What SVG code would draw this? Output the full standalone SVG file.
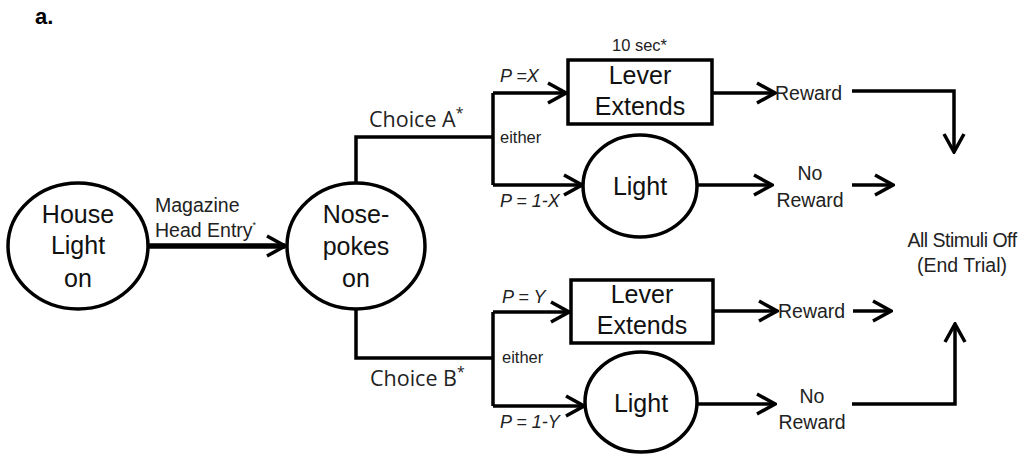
<svg xmlns="http://www.w3.org/2000/svg" width="1021" height="455" viewBox="0 0 1021 455">
<style>
.ln{fill:none;stroke:#000;stroke-width:3.5}
.shape{fill:#fff;stroke:#000;stroke-width:3.5}
.big{font-family:"Liberation Sans",Arial,sans-serif;font-size:25px;fill:#111;text-anchor:middle}
.mid{font-family:"Liberation Sans",Arial,sans-serif;font-size:19.5px;fill:#222}
.sm{font-family:"Liberation Sans",Arial,sans-serif;font-size:16.5px;fill:#222}
.pi{font-family:"Liberation Sans",Arial,sans-serif;font-size:18px;font-style:italic;fill:#222}
.cal{font-family:"Open Sans","Liberation Sans",sans-serif;font-size:21.5px;fill:#222}
</style>
<defs>
<marker id="ah" viewBox="0 0 22 24" refX="20" refY="12" markerWidth="22" markerHeight="24" markerUnits="userSpaceOnUse" orient="auto">
<path d="M2,2 L20,12 L2,22" fill="none" stroke="#000" stroke-width="3.5"/>
</marker>
</defs>
<rect width="1021" height="455" fill="#fff"/>
<text x="35" y="24" style="font-family:'Liberation Sans',Arial,sans-serif;font-size:22px;font-weight:bold">a.</text>

<g id="connectors">
<line class="ln" x1="148" y1="246" x2="285" y2="246" style="stroke-width:5.5" marker-end="url(#ah)"/>
<path class="ln" d="M356,183 V137 H493"/>
<path class="ln" d="M493,93 V185"/>
<line class="ln" x1="493" y1="93" x2="566" y2="93" marker-end="url(#ah)"/>
<line class="ln" x1="493" y1="185" x2="582" y2="185" marker-end="url(#ah)"/>
<path class="ln" d="M356,308 V358 H493"/>
<path class="ln" d="M493,312 V406"/>
<line class="ln" x1="493" y1="312" x2="569" y2="312" marker-end="url(#ah)"/>
<line class="ln" x1="493" y1="406" x2="584" y2="406" marker-end="url(#ah)"/>
<line class="ln" x1="712" y1="93" x2="775" y2="93" marker-end="url(#ah)"/>
<line class="ln" x1="697" y1="185" x2="772" y2="185" marker-end="url(#ah)"/>
<line class="ln" x1="713" y1="311" x2="777" y2="311" marker-end="url(#ah)"/>
<line class="ln" x1="697" y1="404" x2="775" y2="404" marker-end="url(#ah)"/>
<path class="ln" d="M852,91 H954 V152" marker-end="url(#ah)"/>
<line class="ln" x1="852" y1="185" x2="893" y2="185" marker-end="url(#ah)"/>
<line class="ln" x1="853" y1="311" x2="891" y2="311" marker-end="url(#ah)"/>
<path class="ln" d="M852,404 H955 V324" marker-end="url(#ah)"/>
</g>

<g id="labels">
<text class="mid" x="155" y="212" font-size="20">Magazine</text>
<text class="mid" x="155" y="237" font-size="20">Head Entry<tspan font-size="9" dy="-9">*</tspan></text>
<text class="cal" x="369" y="127">Choice A<tspan font-size="14" dy="-9">*</tspan></text>
<text class="cal" x="370" y="386">Choice B<tspan font-size="14" dy="-9">*</tspan></text>
<text class="sm" x="500" y="143">either</text>
<text class="sm" x="502" y="363">either</text>
<text class="pi" x="500" y="82">P =X</text>
<text class="pi" x="500" y="207">P = 1-X</text>
<text class="pi" x="502" y="303">P = Y</text>
<text class="pi" x="500" y="428">P = 1-Y</text>
<text class="sm" x="612" y="51">10 sec*</text>
<text class="mid" x="775" y="100">Reward</text>
<text class="mid" x="810" y="180" text-anchor="middle">No</text>
<text class="mid" x="810" y="207" text-anchor="middle">Reward</text>
<text class="mid" x="778" y="318">Reward</text>
<text class="mid" x="812" y="403" text-anchor="middle">No</text>
<text class="mid" x="812" y="429" text-anchor="middle">Reward</text>
<text class="mid" x="962" y="247" text-anchor="middle" font-size="16" letter-spacing="-0.5">All Stimuli Off</text>
<text class="mid" x="962" y="272" text-anchor="middle" font-size="16">(End Trial)</text>
</g>

<g id="house-light">
<ellipse class="shape" cx="78" cy="246" rx="70" ry="63"/>
<text class="big" x="78" y="223">House</text>
<text class="big" x="78" y="254">Light</text>
<text class="big" x="78" y="287">on</text>
</g>
<g id="nose-pokes">
<ellipse class="shape" cx="356" cy="246" rx="69" ry="63"/>
<text class="big" x="356" y="223">Nose-</text>
<text class="big" x="356" y="255">pokes</text>
<text class="big" x="356" y="287">on</text>
</g>
<g id="lever-a">
<rect class="shape" x="568" y="60" width="144" height="64"/>
<text class="big" x="640" y="84">Lever</text>
<text class="big" x="640" y="115">Extends</text>
</g>
<g id="light-a">
<ellipse class="shape" cx="640" cy="186" rx="57" ry="51"/>
<text class="big" x="640" y="195">Light</text>
</g>
<g id="lever-b">
<rect class="shape" x="571" y="280" width="142" height="63"/>
<text class="big" x="642" y="303">Lever</text>
<text class="big" x="642" y="334">Extends</text>
</g>
<g id="light-b">
<ellipse class="shape" cx="641" cy="402" rx="56" ry="50"/>
<text class="big" x="641" y="412">Light</text>
</g>
</svg>
